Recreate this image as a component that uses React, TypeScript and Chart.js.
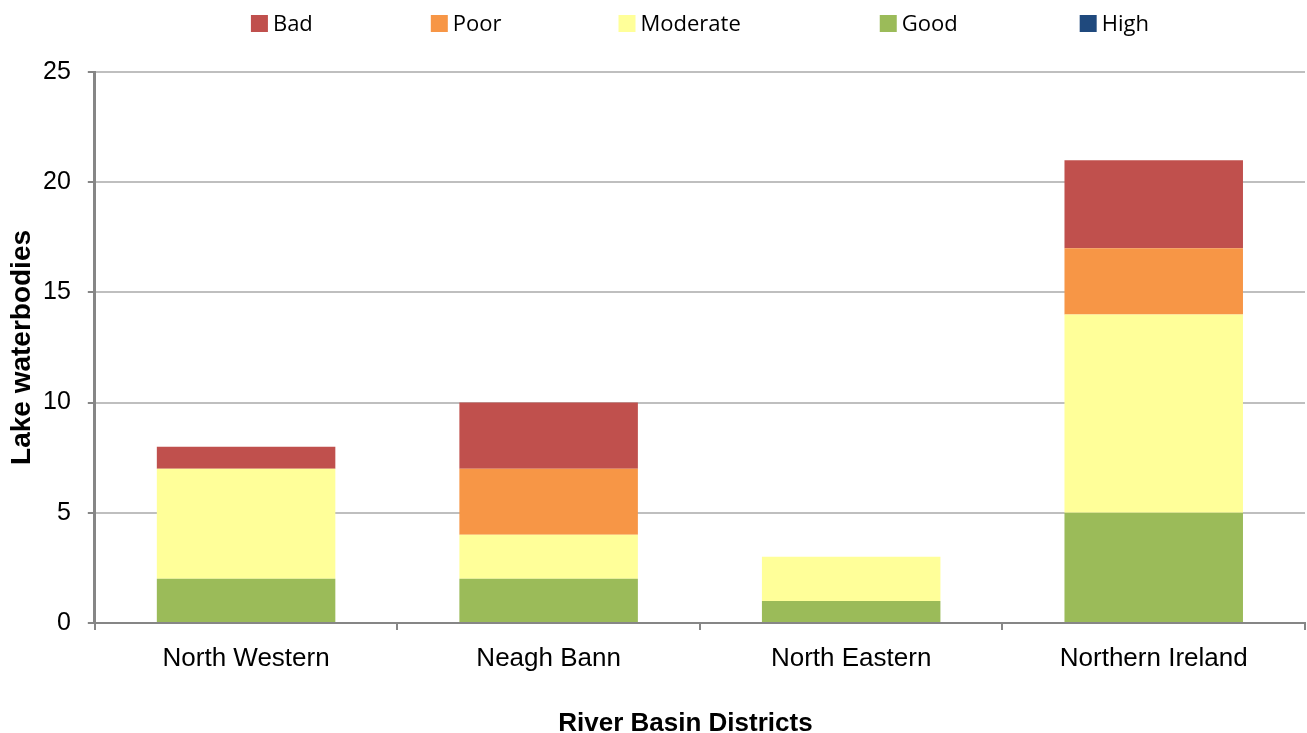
import React, { useEffect, useRef } from "react";
import { Chart, registerables } from "chart.js";

Chart.register(...registerables);

const categories = ["North Western", "Neagh Bann", "North Eastern", "Northern Ireland"];
const goodValues = [2, 2, 1, 5];
const moderateValues = [5, 2, 2, 9];
const poorValues = [0, 3, 0, 3];
const badValues = [1, 3, 0, 4];
const highValues = [0, 0, 0, 0];
const legendOrder = ["Bad", "Poor", "Moderate", "Good", "High"];
const yTicks = [0, 5, 10, 15, 20, 25];

const legendGaps = [118, 117, 139, 122];

const customLegend = {
  id: "customLegend",
  afterDraw(chart: any) {
    const { ctx, chartArea } = chart;
    ctx.save();
    ctx.font = "22px 'Open Sans'";
    const box = 17;
    const gapText = 5;
    const items = legendOrder.map((name) => {
      const ds = chart.data.datasets.find((d: any) => d.label === name);
      return { name, color: ds.backgroundColor, w: box + gapText + ctx.measureText(name).width };
    });
    const total =
      items.reduce((s, it) => s + it.w, 0) + legendGaps.reduce((s, g) => s + g, 0);
    let x = (chartArea.left + chartArea.right) / 2 - total / 2;
    const cy = 23.5;
    ctx.textBaseline = "middle";
    ctx.textAlign = "left";
    items.forEach((it, i) => {
      ctx.fillStyle = it.color;
      ctx.fillRect(x, cy - box / 2, box, box);
      ctx.fillStyle = "#000";
      ctx.fillText(it.name, x + box + gapText, cy + 1);
      x += it.w + (legendGaps[i] || 0);
    });
    ctx.restore();
  },
};

export default function App() {
  const ref = useRef<HTMLCanvasElement>(null);
  useEffect(() => {
    document.body.style.margin = "0";
    Chart.defaults.font.family = "'Liberation Sans', Arial, sans-serif";
    Chart.defaults.color = "#000";
    const chart = new Chart(ref.current!, {
      type: "bar",
      data: {
        labels: categories,
        datasets: [
          { label: "Good", data: goodValues, backgroundColor: "#9BBB59" },
          { label: "Moderate", data: moderateValues, backgroundColor: "#FFFF99" },
          { label: "Poor", data: poorValues, backgroundColor: "#F79646" },
          { label: "Bad", data: badValues, backgroundColor: "#C0504D" },
          { label: "High", data: highValues, backgroundColor: "#1F497D" },
        ],
      },
      options: {
        animation: false,
        responsive: false,
        events: [],
        layout: { padding: { top: 72, right: 2, left: 0, bottom: 0 } },
        datasets: { bar: { barPercentage: 1, categoryPercentage: 0.59 } },
        plugins: { legend: { display: false }, tooltip: { enabled: false } },
        scales: {
          x: {
            stacked: true,
            grid: { drawOnChartArea: false, drawTicks: true, tickLength: 7, color: "#868686", lineWidth: 2 },
            border: { color: "#868686", width: 2 },
            ticks: { font: { size: 26 }, padding: 13, maxRotation: 0 },
            title: {
              display: true,
              text: "River Basin Districts    ",
              font: { size: 26, weight: "bold", lineHeight: 0.88 },
              padding: { top: 25, bottom: -2 },
            },
          },
          y: {
            stacked: true,
            min: 0,
            max: 25,
            afterBuildTicks: (scale: any) => {
              scale.ticks = yTicks.map((v) => ({ value: v }));
            },
            grid: { color: "#BFBFBF", lineWidth: 2, tickLength: 7, tickColor: "#868686" },
            border: { color: "#868686", width: 3 },
            ticks: { font: { size: 25 }, padding: 17 },
            title: {
              display: true,
              text: "Lake waterbodies",
              font: { size: 28, weight: "bold", lineHeight: 1 },
              padding: { top: 8, bottom: -10 },
            },
          },
        },
      },
      plugins: [customLegend],
    });
    return () => chart.destroy();
  }, []);
  return <canvas ref={ref} width={1307} height={733} style={{ display: "block" }} />;
}
